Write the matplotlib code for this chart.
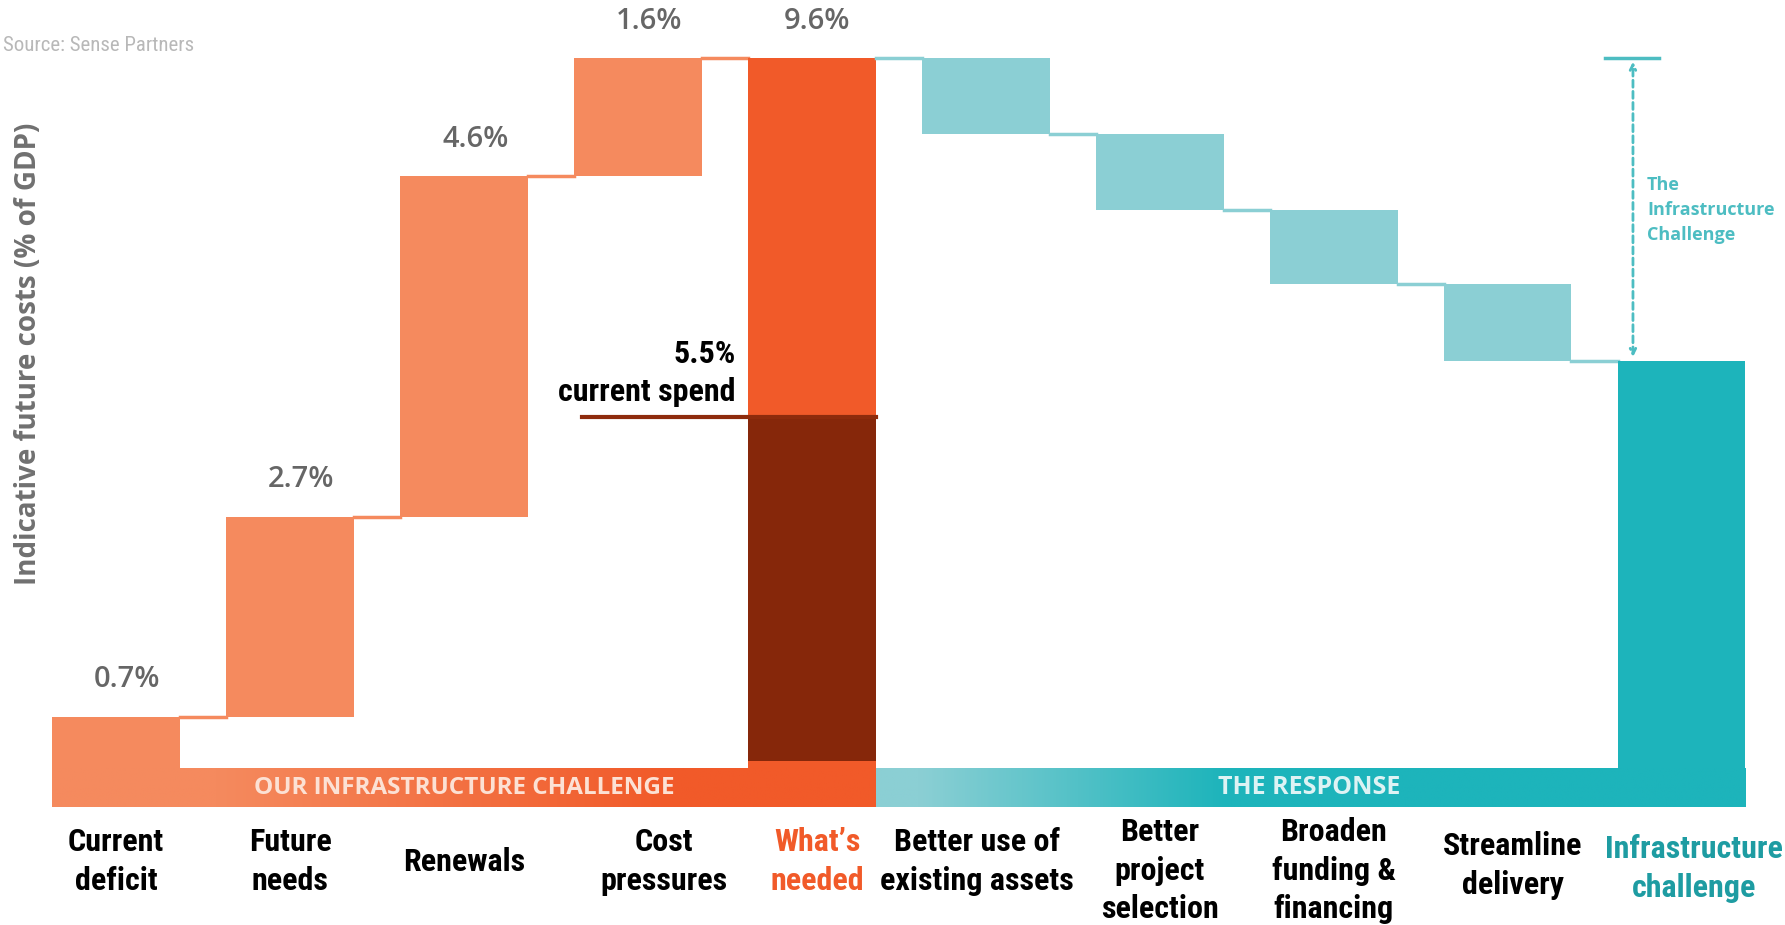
import numpy as np
import matplotlib.pyplot as plt
from matplotlib.colors import to_rgb
from matplotlib import font_manager

categories = ['Current\ndeficit', 'Future\nneeds', 'Renewals', 'Cost\npressures',
              'What\u2019s\nneeded', 'Better use of\nexisting assets', 'Better\nproject\nselection',
              'Broaden\nfunding &\nfinancing', 'Streamline\ndelivery', 'Infrastructure\nchallenge']
challenge_steps = [0.7, 2.7, 4.6, 1.6]
challenge_labels = ['0.7%', '2.7%', '4.6%', '1.6%']
total_needed = 9.6
total_label = '9.6%'
current_spend_level = 4.75
current_spend_text = '5.5%\ncurrent spend'
response_steps = [1.03, 1.02, 1.01, 1.03]

# look for a narrow bold face, fall back to plain Liberation Sans
names = {f.name for f in font_manager.fontManager.ttflist}
narrow = dict(family='Liberation Sans', size=21)
if 'Liberation Sans Narrow' in names:
    narrow = dict(family='Liberation Sans Narrow', size=24)
elif 'Roboto Condensed' in names:
    narrow = dict(family='Roboto Condensed', size=23)
else:
    cond = [f for f in font_manager.fontManager.ttflist
            if f.name == 'DejaVu Sans' and f.stretch == 'condensed']
    if cond:
        narrow = dict(family='DejaVu Sans', stretch='condensed', size=21)

light_orange = '#F58A5E'
orange = '#F15A29'
dark_red = '#86270A'
light_teal = '#8BCFD4'
teal = '#1DB4BB'

W = 0.733
band_h = 0.52

fig = plt.figure(figsize=(17.85, 9.25), dpi=100)
ax = fig.add_axes([0, 0, 1, 1])
ax.set_xlim(-0.6675, 9.594)
ax.set_ylim(-2.116, 10.384)
ax.axis('off')

# gradient bands along the bottom
def band(x0, x1, c0, c1, ramp0, ramp1):
    t = np.linspace(0, 1, 400)
    f = np.clip((t - ramp0) / (ramp1 - ramp0), 0, 1)
    a, b = np.array(to_rgb(c0)), np.array(to_rgb(c1))
    img = a[None, :] * (1 - f[:, None]) + b[None, :] * f[:, None]
    ax.imshow(img[None, :, :], extent=[x0, x1, -band_h, 0], aspect='auto', zorder=1)

band(-W / 2, 4 + W / 2, light_orange, orange, 0.2, 0.75)
band(4 + W / 2, 9 + W / 2, light_teal, teal, 0.05, 0.4)

ax.text(2.0, -band_h / 2, 'OUR INFRASTRUCTURE CHALLENGE', ha='center', va='center',
        fontsize=17.5, fontweight='bold', family='Open Sans', color='#FCE1D4', zorder=3)
ax.text(6.86, -band_h / 2, 'THE RESPONSE', ha='center', va='center',
        fontsize=18, fontweight='bold', family='Open Sans', color='#DDF3F4', zorder=3)

# challenge waterfall
bottom = 0.0
for i, (v, lab) in enumerate(zip(challenge_steps, challenge_labels)):
    ax.bar(i, v, bottom=bottom, width=W, color=light_orange, zorder=2)
    top = bottom + v
    ax.plot([i + W / 2, i + 1 - W / 2], [top, top], color=light_orange, lw=2.5, zorder=2)
    ax.text(i + 0.065, top + 0.5, lab, ha='center', va='center', fontsize=21,
            fontweight='semibold', family='Open Sans', color='#666666')
    bottom = top

ax.bar(4, total_needed, width=W, color=orange, zorder=2)
ax.bar(4, current_spend_level - 0.1, bottom=0.1, width=W, color=dark_red, zorder=2)
ax.text(4.03, total_needed + 0.5, total_label, ha='center', va='center', fontsize=21,
        fontweight='semibold', family='Open Sans', color='#666666')
ax.plot([2.68, 4 + W / 2], [current_spend_level] * 2, color='#8E2B0C', lw=3, zorder=3)
ax.text(3.56, 5.34, current_spend_text, ha='right', va='center', fontweight='bold',
        color='black', linespacing=1.35, **narrow)

# response waterfall
level = total_needed
ax.plot([4 + W / 2, 5 - W / 2], [level, level], color=light_teal, lw=2.5, zorder=2)
for j, v in enumerate(response_steps):
    i = 5 + j
    ax.bar(i, v, bottom=level - v, width=W, color=light_teal, zorder=2)
    level -= v
    ax.plot([i + W / 2, i + 1 - W / 2], [level, level], color=light_teal, lw=2.5, zorder=2)

ax.bar(9, level, width=W, color=teal, zorder=2)

# infrastructure challenge gap marker
ax.plot([8.56, 8.87], [total_needed, total_needed], color='#4DBDC2', lw=2.5, zorder=3)
ax.annotate('', xy=(8.72, total_needed - 0.05), xytext=(8.72, level + 0.05),
            arrowprops=dict(arrowstyle='<->', color='#4DBDC2', lw=2,
                            linestyle=(0, (2.5, 1.5)), shrinkA=0, shrinkB=0))
ax.text(8.80, 7.54, 'The\nInfrastructure\nChallenge', ha='left', va='center', fontsize=13,
        fontweight='bold', family='Open Sans', color='#4DBDC2', linespacing=1.5)

# category labels
label_dx = [0, 0, 0, 0.15, 0.03, -0.05, 0, 0, 0.03, 0.07]
label_dy = [0, 0, 0, 0, 0, 0, -0.12, -0.12, -0.05, -0.09]
label_colors = ['black'] * 4 + [orange] + ['black'] * 4 + ['#1E9CA2']
for i, (name, dx, dy, c) in enumerate(zip(categories, label_dx, label_dy, label_colors)):
    ax.text(i + dx, -1.26 + dy, name, ha='center', va='center', fontweight='bold',
            color=c, linespacing=1.35, **narrow)

fig.text(3 / 1785, 1 - 45.5 / 925, 'Source: Sense Partners', ha='left', va='center',
         fontsize=15, family=narrow['family'], stretch=narrow.get('stretch', 'normal'),
         color='#b8b8b8')
fig.text(28.5 / 1785, 1 - 354 / 925, 'Indicative future costs (% of GDP)', rotation=90,
         ha='center', va='center', fontsize=20, fontweight='bold', family='Open Sans',
         color='#707070')

fig.savefig('out.png', dpi=100)
